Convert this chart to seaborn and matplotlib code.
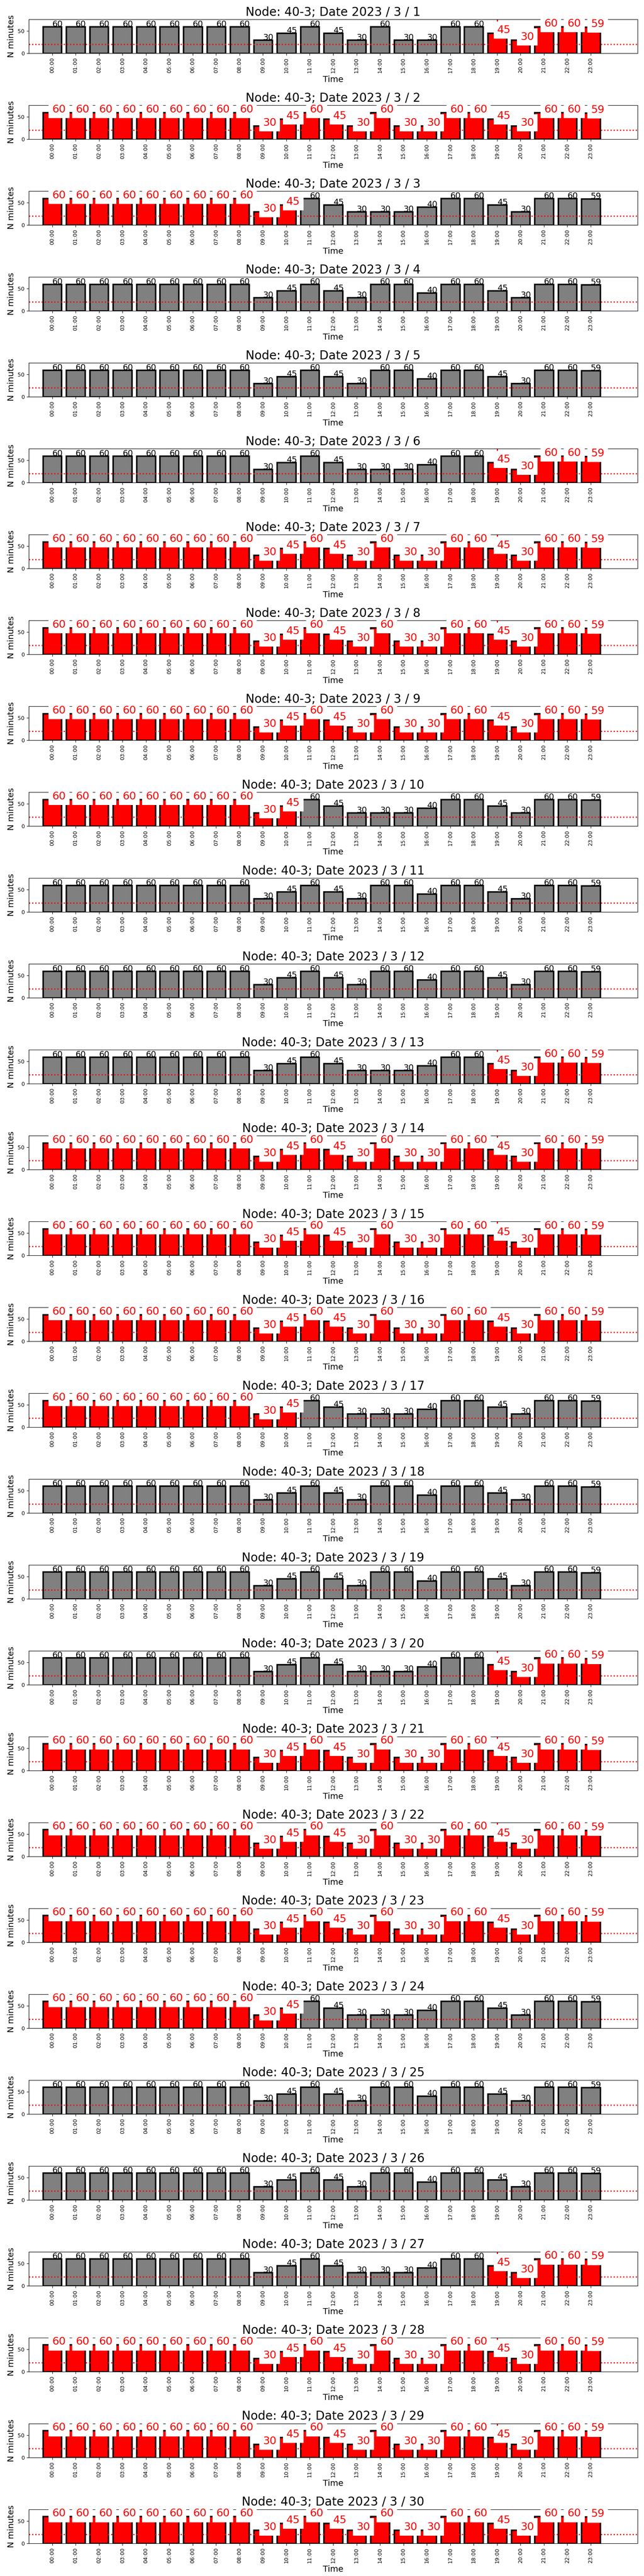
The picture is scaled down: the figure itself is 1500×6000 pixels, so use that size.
import matplotlib
matplotlib.use("Agg")
import matplotlib.pyplot as plt
import seaborn as sns

# Data
node = "40-3"
days = list(range(1, 31))
hours = ["%02d:00" % h for h in range(24)]

# three daily profiles (minutes per hour)
minutes_a = [60, 60, 60, 60, 60, 60, 60, 60, 60, 30, 45, 60, 45, 30, 60, 60, 40, 60, 60, 45, 30, 60, 60, 59]
minutes_b = [60, 60, 60, 60, 60, 60, 60, 60, 60, 30, 45, 60, 45, 30, 30, 30, 40, 60, 60, 45, 30, 60, 60, 59]
minutes_c = [60, 60, 60, 60, 60, 60, 60, 60, 60, 30, 45, 60, 45, 30, 60, 30, 30, 60, 60, 45, 30, 60, 60, 59]
profiles = {"a": minutes_a, "b": minutes_b, "c": minutes_c}

day_profile = ["c", "c", "b", "a", "a", "b", "c", "c", "c", "b",
               "a", "a", "b", "c", "c", "c", "b", "a", "a", "b",
               "c", "c", "c", "b", "a", "a", "b", "c", "c", "c"]

# hours flagged in red (first, last) for each day, None = no flag
red_span = [(19, 23), (0, 23), (0, 10), None, None, (19, 23), (0, 23), (0, 23), (0, 23), (0, 10),
            None, None, (19, 23), (0, 23), (0, 23), (0, 23), (0, 10), None, None, (19, 23),
            (0, 23), (0, 23), (0, 23), (0, 10), None, None, (19, 23), (0, 23), (0, 23), (0, 23)]

# days with a red marker at 19:00
marker_days = [1, 6, 7, 8, 13, 14, 15, 20, 21, 22, 27, 28, 29]

threshold = 20

fig, axes = plt.subplots(len(days), 1, figsize=(15, 60), dpi=100)
plt.subplots_adjust(left=0.0447, right=0.99, top=0.9925, bottom=0.0127, hspace=1.53)

for ax, day, prof, span in zip(axes, days, day_profile, red_span):
    vals = profiles[prof]
    flags = [span is not None and span[0] <= h <= span[1] for h in range(24)]
    colors = ["red" if f else "gray" for f in flags]

    if day in marker_days:
        ax.axvline(19, color="red", linewidth=2, zorder=0)

    sns.barplot(x=hours, y=vals, hue=hours, palette=colors, legend=False,
                saturation=1, edgecolor="black", linewidth=2.5, ax=ax)
    ax.axhline(threshold, color="red", linestyle=":", linewidth=2)

    for i, v in enumerate(vals):
        if flags[i]:
            ax.text(i, v, str(v), fontsize=18, color="red",
                    bbox=dict(facecolor="white", edgecolor="none", pad=6))
        else:
            ax.text(i, v, str(v), fontsize=14)

    ax.set_xlim(-1, 25)
    ax.set_ylim(0, 76)
    ax.set_yticks([0, 50])
    ax.tick_params(axis="x", labelrotation=90, labelsize=9)
    ax.tick_params(axis="y", labelsize=9)
    ax.set_xlabel("Time", fontsize=14)
    ax.set_ylabel("N minutes", fontsize=14)
    ax.set_title("Node: %s; Date 2023 / 3 / %d" % (node, day), fontsize=20)

plt.savefig("out.png")
